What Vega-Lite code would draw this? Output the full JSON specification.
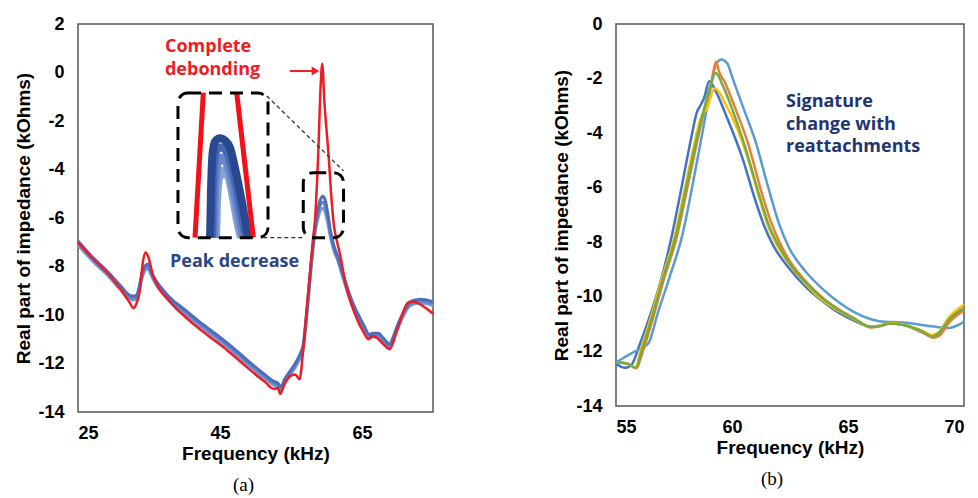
{
  "$schema": "https://vega.github.io/schema/vega-lite/v6.json",
  "background": "white",
  "padding": {"left": 14, "top": 14, "right": 2, "bottom": 2},
  "spacing": 112,
  "resolve": {"scale": {"color": "independent"}},
  "config": {
    "view": {"stroke": "#555555", "strokeWidth": 1.5},
    "axis": {"domain": false, "ticks": false, "grid": false, "labelFont": "Liberation Sans", "labelFontWeight": "bold", "labelFontSize": 18, "labelColor": "#000000", "titleFont": "Liberation Sans", "titleFontWeight": "bold", "titleFontSize": 19, "titleColor": "#000000"},
    "axisX": {"labelPadding": 12, "titlePadding": 2},
    "axisY": {"labelPadding": 14, "titlePadding": 4},
    "title": {"font": "Liberation Serif", "fontSize": 19, "fontWeight": "normal", "color": "#000000", "orient": "bottom", "offset": 13}
  },
  "datasets": {
    "red": [
      {"x":25.0,"y":-7.0},{"x":27.0,"y":-7.65},{"x":29.3,"y":-8.32},{"x":31.0,"y":-8.95},{"x":32.3,"y":-9.5},{"x":32.8,"y":-9.72},{"x":33.2,"y":-9.55},{"x":33.7,"y":-9.0},{"x":34.1,"y":-7.9},{"x":34.5,"y":-7.42},{"x":34.9,"y":-7.6},{"x":35.5,"y":-8.3},{"x":36.3,"y":-8.85},{"x":37.5,"y":-9.3},{"x":38.7,"y":-9.7},{"x":40.0,"y":-10.05},{"x":42.0,"y":-10.55},{"x":44.0,"y":-11.0},{"x":46.0,"y":-11.45},{"x":48.0,"y":-11.95},{"x":50.0,"y":-12.45},{"x":51.5,"y":-12.8},{"x":52.2,"y":-13.0},{"x":52.7,"y":-13.05},{"x":53.1,"y":-13.0},{"x":53.5,"y":-13.25},{"x":54.0,"y":-12.9},{"x":54.9,"y":-12.52},{"x":55.6,"y":-12.45},{"x":56.2,"y":-12.65},{"x":56.7,"y":-11.5},{"x":57.2,"y":-9.8},{"x":57.7,"y":-8.2},{"x":58.1,"y":-6.9},{"x":58.4,"y":-6.0},{"x":58.85,"y":-3.24},{"x":59.18,"y":-0.5},{"x":59.4,"y":0.36},{"x":59.7,"y":-1.2},{"x":60.25,"y":-3.24},{"x":60.73,"y":-5.3},{"x":61.0,"y":-6.2},{"x":61.5,"y":-7.0},{"x":61.9,"y":-7.5},{"x":62.8,"y":-8.87},{"x":63.5,"y":-9.55},{"x":64.2,"y":-10.1},{"x":65.2,"y":-10.7},{"x":65.9,"y":-11.0},{"x":66.4,"y":-10.87},{"x":67.1,"y":-10.94},{"x":68.0,"y":-11.2},{"x":68.9,"y":-11.41},{"x":69.9,"y":-10.66},{"x":71.5,"y":-9.49},{"x":72.2,"y":-9.45},{"x":73.2,"y":-9.56},{"x":75.0,"y":-9.95}
    ],
    "blue": [
      {"s":"B3","x":25.0,"y":-7.11},{"s":"B3","x":27.0,"y":-7.76},{"s":"B3","x":29.3,"y":-8.41},{"s":"B3","x":31.0,"y":-8.96},{"s":"B3","x":32.4,"y":-9.36},{"s":"B3","x":33.0,"y":-9.38},{"s":"B3","x":33.5,"y":-9.16},{"s":"B3","x":34.0,"y":-8.5},{"s":"B3","x":34.5,"y":-8.15},{"s":"B3","x":34.9,"y":-8.1},{"s":"B3","x":35.3,"y":-8.36},{"s":"B3","x":35.9,"y":-8.71},{"s":"B3","x":36.8,"y":-9.06},{"s":"B3","x":38.0,"y":-9.46},{"s":"B3","x":40.0,"y":-9.93},{"s":"B3","x":42.0,"y":-10.41},{"s":"B3","x":44.0,"y":-10.86},{"s":"B3","x":46.0,"y":-11.31},{"s":"B3","x":48.0,"y":-11.81},{"s":"B3","x":50.0,"y":-12.31},{"s":"B3","x":51.5,"y":-12.66},{"s":"B3","x":52.5,"y":-12.88},{"s":"B3","x":53.1,"y":-12.96},{"s":"B3","x":53.6,"y":-13.11},{"s":"B3","x":54.1,"y":-12.81},{"s":"B3","x":54.9,"y":-12.46},{"s":"B3","x":55.6,"y":-12.16},{"s":"B3","x":56.3,"y":-11.76},{"s":"B3","x":56.7,"y":-11.41},{"s":"B3","x":57.3,"y":-9.8},{"s":"B3","x":57.85,"y":-8.0},{"s":"B3","x":58.4,"y":-6.6},{"s":"B3","x":58.9,"y":-5.9},{"s":"B3","x":59.2,"y":-5.65},{"s":"B3","x":59.5,"y":-5.6},{"s":"B3","x":59.8,"y":-5.75},{"s":"B3","x":60.2,"y":-6.25},{"s":"B3","x":60.6,"y":-6.85},{"s":"B3","x":61.1,"y":-7.4},{"s":"B3","x":61.6,"y":-7.76},{"s":"B3","x":62.1,"y":-8.26},{"s":"B3","x":62.8,"y":-8.91},{"s":"B3","x":63.5,"y":-9.51},{"s":"B3","x":64.5,"y":-10.16},{"s":"B3","x":65.3,"y":-10.61},{"s":"B3","x":66.0,"y":-10.96},{"s":"B3","x":66.5,"y":-10.91},{"s":"B3","x":67.3,"y":-10.91},{"s":"B3","x":68.0,"y":-11.11},{"s":"B3","x":68.9,"y":-11.36},{"s":"B3","x":69.4,"y":-11.06},{"s":"B3","x":69.9,"y":-10.66},{"s":"B3","x":70.8,"y":-10.06},{"s":"B3","x":71.8,"y":-9.61},{"s":"B3","x":73.2,"y":-9.51},{"s":"B3","x":75.0,"y":-9.61},
      {"s":"B2","x":25.0,"y":-7.03},{"s":"B2","x":27.0,"y":-7.68},{"s":"B2","x":29.3,"y":-8.33},{"s":"B2","x":31.0,"y":-8.88},{"s":"B2","x":32.4,"y":-9.28},{"s":"B2","x":33.0,"y":-9.3},{"s":"B2","x":33.5,"y":-9.08},{"s":"B2","x":34.0,"y":-8.4},{"s":"B2","x":34.5,"y":-8.05},{"s":"B2","x":34.9,"y":-8.0},{"s":"B2","x":35.3,"y":-8.28},{"s":"B2","x":35.9,"y":-8.63},{"s":"B2","x":36.8,"y":-8.98},{"s":"B2","x":38.0,"y":-9.38},{"s":"B2","x":40.0,"y":-9.85},{"s":"B2","x":42.0,"y":-10.33},{"s":"B2","x":44.0,"y":-10.78},{"s":"B2","x":46.0,"y":-11.23},{"s":"B2","x":48.0,"y":-11.73},{"s":"B2","x":50.0,"y":-12.23},{"s":"B2","x":51.5,"y":-12.58},{"s":"B2","x":52.5,"y":-12.8},{"s":"B2","x":53.1,"y":-12.88},{"s":"B2","x":53.6,"y":-13.03},{"s":"B2","x":54.1,"y":-12.73},{"s":"B2","x":54.9,"y":-12.38},{"s":"B2","x":55.6,"y":-12.08},{"s":"B2","x":56.3,"y":-11.68},{"s":"B2","x":56.7,"y":-11.33},{"s":"B2","x":57.3,"y":-9.7},{"s":"B2","x":57.85,"y":-7.9},{"s":"B2","x":58.4,"y":-6.45},{"s":"B2","x":58.9,"y":-5.7},{"s":"B2","x":59.2,"y":-5.42},{"s":"B2","x":59.5,"y":-5.35},{"s":"B2","x":59.8,"y":-5.5},{"s":"B2","x":60.2,"y":-6.05},{"s":"B2","x":60.6,"y":-6.72},{"s":"B2","x":61.1,"y":-7.3},{"s":"B2","x":61.6,"y":-7.68},{"s":"B2","x":62.1,"y":-8.18},{"s":"B2","x":62.8,"y":-8.83},{"s":"B2","x":63.5,"y":-9.43},{"s":"B2","x":64.5,"y":-10.08},{"s":"B2","x":65.3,"y":-10.53},{"s":"B2","x":66.0,"y":-10.88},{"s":"B2","x":66.5,"y":-10.83},{"s":"B2","x":67.3,"y":-10.83},{"s":"B2","x":68.0,"y":-11.03},{"s":"B2","x":68.9,"y":-11.28},{"s":"B2","x":69.4,"y":-10.98},{"s":"B2","x":69.9,"y":-10.58},{"s":"B2","x":70.8,"y":-9.98},{"s":"B2","x":71.8,"y":-9.53},{"s":"B2","x":73.2,"y":-9.43},{"s":"B2","x":75.0,"y":-9.53},
      {"s":"B1","x":25.0,"y":-6.95},{"s":"B1","x":27.0,"y":-7.6},{"s":"B1","x":29.3,"y":-8.25},{"s":"B1","x":31.0,"y":-8.8},{"s":"B1","x":32.4,"y":-9.2},{"s":"B1","x":33.0,"y":-9.22},{"s":"B1","x":33.5,"y":-9.0},{"s":"B1","x":34.0,"y":-8.3},{"s":"B1","x":34.5,"y":-7.95},{"s":"B1","x":34.9,"y":-7.9},{"s":"B1","x":35.3,"y":-8.2},{"s":"B1","x":35.9,"y":-8.55},{"s":"B1","x":36.8,"y":-8.9},{"s":"B1","x":38.0,"y":-9.3},{"s":"B1","x":40.0,"y":-9.77},{"s":"B1","x":42.0,"y":-10.25},{"s":"B1","x":44.0,"y":-10.7},{"s":"B1","x":46.0,"y":-11.15},{"s":"B1","x":48.0,"y":-11.65},{"s":"B1","x":50.0,"y":-12.15},{"s":"B1","x":51.5,"y":-12.5},{"s":"B1","x":52.5,"y":-12.72},{"s":"B1","x":53.1,"y":-12.8},{"s":"B1","x":53.6,"y":-12.95},{"s":"B1","x":54.1,"y":-12.65},{"s":"B1","x":54.9,"y":-12.3},{"s":"B1","x":55.6,"y":-12.0},{"s":"B1","x":56.3,"y":-11.6},{"s":"B1","x":56.7,"y":-11.25},{"s":"B1","x":57.3,"y":-9.6},{"s":"B1","x":57.85,"y":-7.8},{"s":"B1","x":58.4,"y":-6.3},{"s":"B1","x":58.9,"y":-5.5},{"s":"B1","x":59.2,"y":-5.2},{"s":"B1","x":59.5,"y":-5.1},{"s":"B1","x":59.8,"y":-5.25},{"s":"B1","x":60.2,"y":-5.85},{"s":"B1","x":60.6,"y":-6.6},{"s":"B1","x":61.1,"y":-7.2},{"s":"B1","x":61.6,"y":-7.6},{"s":"B1","x":62.1,"y":-8.1},{"s":"B1","x":62.8,"y":-8.75},{"s":"B1","x":63.5,"y":-9.35},{"s":"B1","x":64.5,"y":-10.0},{"s":"B1","x":65.3,"y":-10.45},{"s":"B1","x":66.0,"y":-10.8},{"s":"B1","x":66.5,"y":-10.75},{"s":"B1","x":67.3,"y":-10.75},{"s":"B1","x":68.0,"y":-10.95},{"s":"B1","x":68.9,"y":-11.2},{"s":"B1","x":69.4,"y":-10.9},{"s":"B1","x":69.9,"y":-10.5},{"s":"B1","x":70.8,"y":-9.9},{"s":"B1","x":71.8,"y":-9.45},{"s":"B1","x":73.2,"y":-9.35},{"s":"B1","x":75.0,"y":-9.45}
    ],
    "inset": [
      {"s":"I4","x":44.45,"y":-6.81},{"s":"I4","x":44.55,"y":-5.6},{"s":"I4","x":44.75,"y":-4.6},{"s":"I4","x":45.05,"y":-4.15},{"s":"I4","x":45.3,"y":-4.05},{"s":"I4","x":45.55,"y":-4.2},{"s":"I4","x":45.8,"y":-4.1},{"s":"I4","x":46.15,"y":-4.25},{"s":"I4","x":46.55,"y":-4.75},{"s":"I4","x":47.0,"y":-5.45},{"s":"I4","x":47.5,"y":-6.25},{"s":"I4","x":47.95,"y":-6.81},
      {"s":"I3","x":44.15,"y":-6.81},{"s":"I3","x":44.25,"y":-5.3},{"s":"I3","x":44.45,"y":-4.2},{"s":"I3","x":44.8,"y":-3.65},{"s":"I3","x":45.2,"y":-3.5},{"s":"I3","x":45.65,"y":-3.6},{"s":"I3","x":46.2,"y":-3.95},{"s":"I3","x":46.75,"y":-4.6},{"s":"I3","x":47.35,"y":-5.45},{"s":"I3","x":47.85,"y":-6.2},{"s":"I3","x":48.3,"y":-6.81},
      {"s":"I2","x":43.88,"y":-6.81},{"s":"I2","x":43.98,"y":-5.0},{"s":"I2","x":44.15,"y":-3.75},{"s":"I2","x":44.55,"y":-3.2},{"s":"I2","x":45.1,"y":-3.08},{"s":"I2","x":45.65,"y":-3.15},{"s":"I2","x":46.3,"y":-3.5},{"s":"I2","x":46.95,"y":-4.25},{"s":"I2","x":47.6,"y":-5.2},{"s":"I2","x":48.15,"y":-6.05},{"s":"I2","x":48.65,"y":-6.81},
      {"s":"I1","x":43.6,"y":-6.81},{"s":"I1","x":43.73,"y":-4.89},{"s":"I1","x":43.97,"y":-3.3},{"s":"I1","x":44.3,"y":-2.85},{"s":"I1","x":45.0,"y":-2.71},{"s":"I1","x":45.7,"y":-2.8},{"s":"I1","x":46.41,"y":-3.1},{"s":"I1","x":47.11,"y":-3.93},{"s":"I1","x":48.06,"y":-5.3},{"s":"I1","x":48.99,"y":-6.81}
    ],
    "insetRed": [
      {"s":"L","x":42.65,"y":-0.83},{"s":"L","x":41.48,"y":-6.81},
      {"s":"R","x":47.35,"y":-0.83},{"s":"R","x":49.69,"y":-6.81}
    ],
    "b": [
      {"s":"DB","x":55.0,"y":-12.45},{"s":"DB","x":55.4,"y":-12.6},{"s":"DB","x":55.7,"y":-12.45},{"s":"DB","x":56.0,"y":-11.8},{"s":"DB","x":56.3,"y":-11.1},{"s":"DB","x":56.87,"y":-9.6},{"s":"DB","x":57.37,"y":-7.9},{"s":"DB","x":57.8,"y":-6.1},{"s":"DB","x":58.2,"y":-4.35},{"s":"DB","x":58.5,"y":-3.2},{"s":"DB","x":58.65,"y":-2.97},{"s":"DB","x":58.8,"y":-2.7},{"s":"DB","x":59.02,"y":-2.1},{"s":"DB","x":59.31,"y":-2.48},{"s":"DB","x":59.74,"y":-3.34},{"s":"DB","x":60.46,"y":-4.94},{"s":"DB","x":61.0,"y":-6.45},{"s":"DB","x":61.39,"y":-7.4},{"s":"DB","x":61.8,"y":-8.15},{"s":"DB","x":62.46,"y":-8.95},{"s":"DB","x":63.2,"y":-9.65},{"s":"DB","x":63.89,"y":-10.15},{"s":"DB","x":64.6,"y":-10.58},{"s":"DB","x":65.33,"y":-10.9},{"s":"DB","x":65.98,"y":-11.1},{"s":"DB","x":66.4,"y":-11.05},{"s":"DB","x":66.8,"y":-10.98},{"s":"DB","x":67.4,"y":-11.02},{"s":"DB","x":68.2,"y":-11.3},{"s":"DB","x":68.65,"y":-11.45},{"s":"DB","x":68.95,"y":-11.35},{"s":"DB","x":69.35,"y":-10.9},{"s":"DB","x":70.0,"y":-10.45},
      {"s":"LB","x":55.0,"y":-12.4},{"s":"LB","x":55.3,"y":-12.25},{"s":"LB","x":55.7,"y":-12.05},{"s":"LB","x":56.08,"y":-11.88},{"s":"LB","x":56.4,"y":-11.7},{"s":"LB","x":56.8,"y":-10.6},{"s":"LB","x":57.3,"y":-9.3},{"s":"LB","x":57.87,"y":-7.7},{"s":"LB","x":58.3,"y":-5.9},{"s":"LB","x":58.7,"y":-4.1},{"s":"LB","x":59.0,"y":-2.7},{"s":"LB","x":59.3,"y":-1.5},{"s":"LB","x":59.55,"y":-1.3},{"s":"LB","x":59.8,"y":-1.45},{"s":"LB","x":60.03,"y":-2.0},{"s":"LB","x":60.5,"y":-3.1},{"s":"LB","x":61.03,"y":-4.35},{"s":"LB","x":61.5,"y":-5.8},{"s":"LB","x":62.04,"y":-7.35},{"s":"LB","x":62.46,"y":-8.2},{"s":"LB","x":63.2,"y":-9.1},{"s":"LB","x":63.89,"y":-9.7},{"s":"LB","x":64.6,"y":-10.2},{"s":"LB","x":65.33,"y":-10.59},{"s":"LB","x":66.34,"y":-10.89},{"s":"LB","x":67.49,"y":-10.95},{"s":"LB","x":68.63,"y":-11.08},{"s":"LB","x":69.35,"y":-11.14},{"s":"LB","x":69.78,"y":-11.02},{"s":"LB","x":70.0,"y":-10.9},
      {"s":"O","x":55.0,"y":-12.4},{"s":"O","x":55.5,"y":-12.45},{"s":"O","x":55.88,"y":-12.62},{"s":"O","x":56.12,"y":-12.1},{"s":"O","x":56.52,"y":-11.0},{"s":"O","x":57.05,"y":-9.4},{"s":"O","x":57.65,"y":-7.7},{"s":"O","x":58.05,"y":-6.1},{"s":"O","x":58.45,"y":-4.5},{"s":"O","x":58.85,"y":-3.0},{"s":"O","x":59.1,"y":-2.2},{"s":"O","x":59.32,"y":-1.38},{"s":"O","x":59.42,"y":-1.7},{"s":"O","x":59.7,"y":-2.15},{"s":"O","x":60.1,"y":-3.0},{"s":"O","x":60.7,"y":-4.4},{"s":"O","x":61.3,"y":-6.25},{"s":"O","x":61.7,"y":-7.3},{"s":"O","x":62.05,"y":-8.0},{"s":"O","x":62.46,"y":-8.65},{"s":"O","x":63.2,"y":-9.45},{"s":"O","x":63.89,"y":-10.02},{"s":"O","x":64.6,"y":-10.46},{"s":"O","x":65.33,"y":-10.82},{"s":"O","x":66.0,"y":-11.12},{"s":"O","x":66.34,"y":-11.08},{"s":"O","x":66.77,"y":-10.98},{"s":"O","x":67.34,"y":-11.02},{"s":"O","x":68.2,"y":-11.3},{"s":"O","x":68.7,"y":-11.5},{"s":"O","x":68.95,"y":-11.42},{"s":"O","x":69.35,"y":-10.95},{"s":"O","x":70.0,"y":-10.5},
      {"s":"Y","x":55.0,"y":-12.4},{"s":"Y","x":55.5,"y":-12.45},{"s":"Y","x":55.85,"y":-12.6},{"s":"Y","x":56.05,"y":-12.0},{"s":"Y","x":56.45,"y":-10.9},{"s":"Y","x":56.95,"y":-9.4},{"s":"Y","x":57.55,"y":-7.7},{"s":"Y","x":57.95,"y":-6.1},{"s":"Y","x":58.35,"y":-4.5},{"s":"Y","x":58.6,"y":-3.6},{"s":"Y","x":58.75,"y":-3.25},{"s":"Y","x":58.9,"y":-3.15},{"s":"Y","x":59.05,"y":-2.75},{"s":"Y","x":59.25,"y":-2.36},{"s":"Y","x":59.45,"y":-2.5},{"s":"Y","x":59.7,"y":-2.9},{"s":"Y","x":60.0,"y":-3.4},{"s":"Y","x":60.6,"y":-4.7},{"s":"Y","x":61.2,"y":-6.45},{"s":"Y","x":61.55,"y":-7.4},{"s":"Y","x":61.9,"y":-8.05},{"s":"Y","x":62.46,"y":-8.8},{"s":"Y","x":63.2,"y":-9.55},{"s":"Y","x":63.89,"y":-10.12},{"s":"Y","x":64.6,"y":-10.52},{"s":"Y","x":65.33,"y":-10.85},{"s":"Y","x":65.98,"y":-11.1},{"s":"Y","x":66.34,"y":-11.06},{"s":"Y","x":66.77,"y":-10.96},{"s":"Y","x":67.34,"y":-11.0},{"s":"Y","x":68.2,"y":-11.25},{"s":"Y","x":68.63,"y":-11.4},{"s":"Y","x":68.9,"y":-11.3},{"s":"Y","x":69.35,"y":-10.75},{"s":"Y","x":70.0,"y":-10.28},
      {"s":"G","x":55.0,"y":-12.4},{"s":"G","x":55.5,"y":-12.45},{"s":"G","x":55.85,"y":-12.6},{"s":"G","x":56.1,"y":-12.0},{"s":"G","x":56.5,"y":-10.9},{"s":"G","x":57.0,"y":-9.4},{"s":"G","x":57.6,"y":-7.7},{"s":"G","x":58.0,"y":-6.1},{"s":"G","x":58.4,"y":-4.5},{"s":"G","x":58.8,"y":-3.1},{"s":"G","x":59.05,"y":-2.3},{"s":"G","x":59.3,"y":-1.8},{"s":"G","x":59.6,"y":-2.25},{"s":"G","x":60.0,"y":-3.1},{"s":"G","x":60.6,"y":-4.6},{"s":"G","x":61.2,"y":-6.35},{"s":"G","x":61.6,"y":-7.4},{"s":"G","x":62.0,"y":-8.1},{"s":"G","x":62.46,"y":-8.75},{"s":"G","x":63.2,"y":-9.5},{"s":"G","x":63.89,"y":-10.05},{"s":"G","x":64.6,"y":-10.48},{"s":"G","x":65.33,"y":-10.83},{"s":"G","x":65.98,"y":-11.1},{"s":"G","x":66.34,"y":-11.08},{"s":"G","x":66.77,"y":-10.98},{"s":"G","x":67.34,"y":-11.02},{"s":"G","x":68.2,"y":-11.26},{"s":"G","x":68.63,"y":-11.45},{"s":"G","x":68.92,"y":-11.32},{"s":"G","x":69.35,"y":-10.83},{"s":"G","x":70.0,"y":-10.4}
    ]
  },
  "hconcat": [
    {
      "width": 355,
      "height": 388,
      "title": {"text": "(a)", "orient": "bottom", "dx": -12},
      "encoding": {
        "x": {"field": "x", "type": "quantitative", "scale": {"domain": [25, 75], "nice": false, "zero": false}, "axis": {"values": [25, 45, 65], "title": "Frequency (kHz)", "labelExpr": "'' + datum.value"}},
        "y": {"field": "y", "type": "quantitative", "scale": {"domain": [-14, 2], "nice": false, "zero": false}, "axis": {"values": [-14, -12, -10, -8, -6, -4, -2, 0, 2], "title": "Real part of impedance (kOhms)", "labelExpr": "'' + datum.value"}}
      },
      "layer": [
        {
          "data": {"name": "blue"},
          "mark": {"type": "line", "interpolate": "monotone", "strokeWidth": 3},
          "encoding": {"color": {"field": "s", "type": "nominal", "scale": {"domain": ["B3", "B2", "B1", "I4", "I3", "I2", "I1"], "range": ["#7D9AD8", "#6686CB", "#4E6EB8", "#86A2DC", "#6686CA", "#4767B2", "#2A4890"]}, "legend": null}}
        },
        {
          "data": {"name": "red"},
          "mark": {"type": "line", "interpolate": "monotone", "strokeWidth": 2.5, "color": "#EE1C24"},
          "encoding": {}
        },
        {
          "data": {"name": "inset"},
          "mark": {"type": "line", "interpolate": "monotone", "strokeWidth": 8},
          "encoding": {"color": {"field": "s", "type": "nominal", "scale": {"domain": ["B3", "B2", "B1", "I4", "I3", "I2", "I1"], "range": ["#7D9AD8", "#6686CB", "#4E6EB8", "#86A2DC", "#6686CA", "#4767B2", "#2A4890"]}, "legend": null}}
        },
        {
          "data": {"name": "insetRed"},
          "mark": {"type": "line", "strokeWidth": 5, "color": "#F50F17"},
          "encoding": {"detail": {"field": "s", "type": "nominal"}}
        },
        {
          "data": {"values": [{"x": 51.6, "y": -0.97, "x2": 62.4, "y2": -4.06}, {"x": 51.1, "y": -6.81, "x2": 56.7, "y2": -6.81}]},
          "mark": {"type": "rule", "strokeDash": [4, 3], "strokeWidth": 1.3, "color": "#333333"},
          "encoding": {"x2": {"field": "x2"}, "y2": {"field": "y2"}}
        },
        {
          "data": {"values": [{"x": 39.08, "x2": 51.76, "y": -0.85, "y2": -6.81}, {"x": 56.73, "x2": 62.4, "y": -4.13, "y2": -6.81}]},
          "mark": {"type": "rect", "fillOpacity": 0, "stroke": "#000000", "strokeWidth": 3, "strokeDash": [13, 8], "cornerRadius": 10},
          "encoding": {"x2": {"field": "x2"}, "y2": {"field": "y2"}}
        },
        {
          "data": {"values": [{"x": 54.86, "x2": 58.2, "y": 0.06}]},
          "mark": {"type": "rule", "strokeWidth": 2, "color": "#EE1C24"},
          "encoding": {"x2": {"field": "x2"}}
        },
        {
          "data": {"values": [{"x": 58.45, "y": 0.06}]},
          "mark": {"type": "point", "shape": "triangle-right", "filled": true, "size": 80, "color": "#EE1C24", "opacity": 1},
          "encoding": {}
        },
        {
          "data": {"values": [{"x": 37.25, "y": 0.845, "t": "Complete\ndebonding"}]},
          "mark": {"type": "text", "align": "left", "baseline": "alphabetic", "lineBreak": "\n", "lineHeight": 23, "font": "Open Sans", "fontWeight": "bold", "fontSize": 18, "color": "#EE1C24"},
          "encoding": {"text": {"field": "t"}}
        },
        {
          "data": {"values": [{"x": 37.96, "y": -8.02, "t": "Peak decrease"}]},
          "mark": {"type": "text", "align": "left", "baseline": "alphabetic", "font": "Open Sans", "fontWeight": "bold", "fontSize": 18, "color": "#2C4583"},
          "encoding": {"text": {"field": "t"}}
        }
      ]
    },
    {
      "width": 348,
      "height": 382,
      "title": {"text": "(b)", "orient": "bottom", "dx": -18},
      "encoding": {
        "x": {"field": "x", "type": "quantitative", "scale": {"domain": [55, 70], "nice": false, "zero": false}, "axis": {"values": [55, 60, 65, 70], "title": "Frequency (kHz)", "labelExpr": "'' + datum.value"}},
        "y": {"field": "y", "type": "quantitative", "scale": {"domain": [-14, 0], "nice": false, "zero": false}, "axis": {"values": [-14, -12, -10, -8, -6, -4, -2, 0], "title": "Real part of impedance (kOhms)", "labelExpr": "'' + datum.value"}}
      },
      "layer": [
        {
          "data": {"name": "b"},
          "mark": {"type": "line", "interpolate": "monotone", "strokeWidth": 2.5},
          "encoding": {"color": {"field": "s", "type": "nominal", "scale": {"domain": ["DB", "LB", "O", "Y", "G"], "range": ["#4472C4", "#5B9BD5", "#ED7D31", "#FFC000", "#70AD47"]}, "legend": null}}
        },
        {
          "data": {"values": [{"x": 62.33, "y": -3.06, "t": "Signature\nchange with\nreattachments"}]},
          "mark": {"type": "text", "align": "left", "baseline": "alphabetic", "lineBreak": "\n", "lineHeight": 22.5, "font": "Open Sans", "fontWeight": "bold", "fontSize": 18, "color": "#1F3470"},
          "encoding": {"text": {"field": "t"}}
        }
      ]
    }
  ]
}
